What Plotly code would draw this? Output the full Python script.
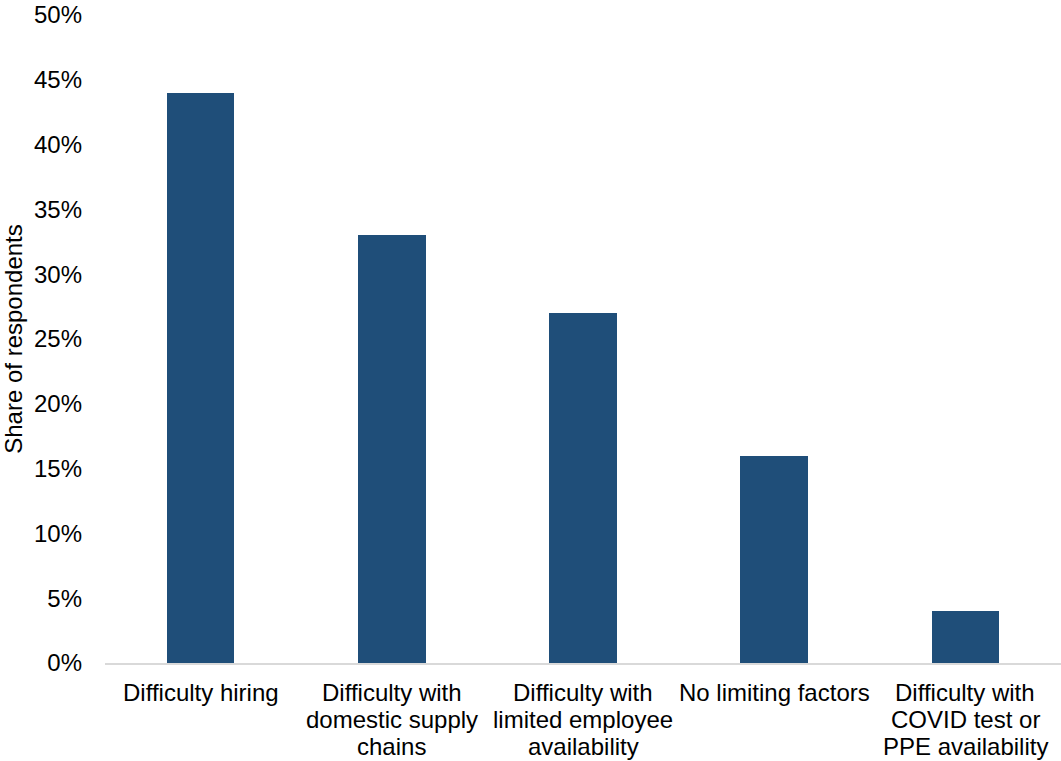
import plotly.graph_objects as go

categories = [
    "Difficulty hiring",
    "Difficulty with domestic supply chains",
    "Difficulty with limited employee availability",
    "No limiting factors",
    "Difficulty with COVID test or PPE availability",
]
# Category labels as they wrap under the axis, one entry per line
category_label_lines = [
    ["Difficulty hiring"],
    ["Difficulty with", "domestic supply", "chains"],
    ["Difficulty with", "limited employee", "availability"],
    ["No limiting factors"],
    ["Difficulty with", "COVID test or", "PPE availability"],
]
shares = [0.44, 0.33, 0.27, 0.16, 0.04]
y_ticks = [0, 0.05, 0.10, 0.15, 0.20, 0.25, 0.30, 0.35, 0.40, 0.45, 0.50]
y_tick_labels = ["0%", "5%", "10%", "15%", "20%", "25%", "30%", "35%", "40%", "45%", "50%"]

font_family = "Liberation Sans, Arial, sans-serif"
font_size = 24
line_height = 27
first_line_offset = 29

fig = go.Figure(
    go.Bar(
        x=categories,
        y=shares,
        marker=dict(color="#1F4E79", line=dict(width=0)),
        width=0.354,
        hoverinfo="skip",
    )
)

# Wrapped category labels with tight line spacing
annotations = []
for cat, lines in zip(categories, category_label_lines):
    for i, line in enumerate(lines):
        annotations.append(
            dict(
                x=cat,
                y=0,
                xref="x",
                yref="y",
                text=line,
                showarrow=False,
                xanchor="center",
                yanchor="middle",
                yshift=-(first_line_offset + i * line_height),
                font=dict(family=font_family, size=font_size, color="#000000"),
            )
        )

fig.update_layout(
    width=1061,
    height=761,
    margin=dict(l=105, r=0, t=15, b=98, autoexpand=False),
    paper_bgcolor="white",
    plot_bgcolor="white",
    font=dict(family=font_family, size=font_size, color="#000000"),
    showlegend=False,
    bargap=0,
    annotations=annotations,
)

fig.update_xaxes(
    showline=True,
    linecolor="#D9D9D9",
    linewidth=2,
    showgrid=False,
    ticks="",
    showticklabels=False,
    automargin=False,
)

fig.update_yaxes(
    range=[0, 0.5],
    tickvals=y_ticks,
    ticktext=y_tick_labels,
    showgrid=False,
    zeroline=False,
    showline=False,
    ticks="",
    ticklabelstandoff=22,
    ticklabeloverflow="allow",
    tickfont=dict(size=font_size),
    automargin=False,
    title=dict(text="Share of respondents", font=dict(size=font_size), standoff=18),
)

fig.write_html("out.html")
